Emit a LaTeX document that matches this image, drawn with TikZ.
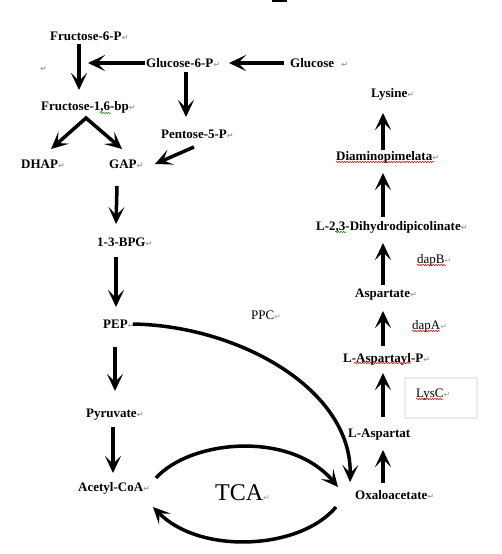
\documentclass[tikz,border=0pt]{standalone}
\usepackage{fontspec}
\setmainfont{Liberation Serif}
\newfontfamily\symfont{DejaVu Sans}
\usetikzlibrary{arrows.meta, calc, decorations.pathmorphing}
\newcommand{\retmark}{{\color{gray!75}\symfont\fontsize{8}{8}\selectfont ↵}}

\begin{document}
\begin{tikzpicture}[
    x=1pt, y=-1pt,
    >={Stealth[length=17pt, width=16pt, inset=8pt]},
    met/.style={anchor=west, inner sep=0pt, font=\bfseries\fontsize{13}{15}\selectfont, text height=8.6pt, text depth=0pt},
    enz/.style={anchor=west, inner sep=0pt, font=\fontsize{13}{15}\selectfont, text height=8.6pt, text depth=0pt},
    cycle/.style={anchor=west, inner sep=0pt, font=\fontsize{24}{28}\selectfont, text height=15.9pt, text depth=0pt},
    arrow/.style={->, line width=3.5pt, line join=miter},
    redsquig/.style={draw=red!85!black, line width=0.5pt, decorate, decoration={snake, amplitude=0.7pt, segment length=2.6pt}},
    greensquig/.style={redsquig, draw=green!55!black},
    lysbox/.style={rectangle, draw=gray!15, line width=2pt, minimum width=72pt, minimum height=40pt, anchor=north west}
]
\useasboundingbox (0,0) rectangle (502,554);
\fill (272,0) rectangle (287,2);

% Glycolysis
\node[met] (f6p) at (50,36) {Fructose-6-P\retmark};
\node[met] (blank) at (40,67) {\retmark};
\node[met] (g6p) at (146,63) {Glucose-6-P\retmark};
\node[met] (glc) at (290,63) {Glucose\hspace{7pt}\retmark};
\node[met] (f16) at (41,106) {Fructose-1,6-bp\retmark};
\node[met] (p5p) at (161,134) {Pentose-5-P\retmark};
\node[met] (dhap) at (21,164) {DHAP\retmark};
\node[met] (gap) at (109,164) {GAP\retmark};
\node[met] (bpg) at (97,242) {1-3-BPG\retmark};
\node[met] (pep) at (103,324) {PEP\retmark};
\node[met] (pyr) at (86,413) {Pyruvate\retmark};
\node[met] (acoa) at (78,487) {Acetyl-CoA\retmark};
\node[cycle] (tca) at (215,493) {TCA\retmark};
\node[enz] (ppc) at (251,315) {PPC\retmark};

% Lysine branch
\node[met] (oaa) at (355,495) {Oxaloacetate\retmark};
\node[met] (lasp) at (348,433) {L-Aspartat};
\node[lysbox] (lyscbox) at (404,377) {};
\node[enz] (lysc) at (416,393) {LysC\retmark};
\node[met] (laspp) at (343,358) {L-Aspartayl-P\retmark};
\node[enz] (dapa) at (412,325) {dapA\retmark};
\node[met] (asp) at (355,293) {Aspartate\retmark};
\node[enz] (dapb) at (417,259) {dapB\retmark};
\node[met] (dhdp) at (316,226) {L-2,3-Dihydrodipicolinate\retmark};
\node[met] (dap) at (336,156) {Diaminopimelata\retmark};
\node[met] (lys) at (371,93) {Lysine\retmark};

% spell-check marks
\draw[greensquig] ($(f16.west)+(59,7)$) -- ++(11,0);
\draw[greensquig] ($(dhdp.west)+(19,6)$) -- ++(11,0);
\draw[redsquig] ($(dap.west)+(0,6)$) -- ++(98,0);
\draw[redsquig] ($(dapb.west)+(0,6)$) -- ++(29,0);
\draw[redsquig] ($(dapa.west)+(0,6)$) -- ++(28,0);
\draw[redsquig] ($(lysc.west)+(0,6)$) -- ++(27,0);
\draw[redsquig] ($(laspp.west)+(11,5)$) -- ++(57,0);

% Arrows
\coordinate (f6pjoin) at (88,63);
\draw[arrow] ($(f6p.west)+(29,8)$) -- ($(f16.west)+(38,-16)$);
\draw[arrow] ($(g6p.west)+(-1,0)$) -- (f6pjoin);
\draw[arrow] ($(glc.west)+(-6,0)$) -- ($(g6p.west)+(83,0)$);
\draw[arrow] ($(g6p.west)+(40,9)$) -- ($(p5p.west)+(25,-17)$);
\draw[arrow, <->] ($(dhap.west)+(30,-15)$) -- ($(f16.west)+(45,12)$) -- ($(gap.west)+(13,-15)$);
\draw[arrow] ($(p5p.west)+(33,13)$) -- ($(gap.west)+(46,0)$);
\draw[arrow] ($(gap.west)+(8,22)$) -- ($(bpg.west)+(19,-18)$);
\draw[arrow] ($(bpg.west)+(19,15)$) -- ($(pep.west)+(13,-17)$);
\draw[arrow] ($(pep.west)+(12,23)$) -- ($(pyr.west)+(29,-22)$);
\draw[arrow] ($(pyr.west)+(27,14)$) -- ($(acoa.west)+(35,-14)$);

\draw[arrow] ($(pep.west)+(30,0)$) .. controls (240,326) and (352,390) .. ($(oaa.west)+(-5,-13)$);
\draw[arrow] ($(acoa.west)+(78,-9)$) .. controls (190,440) and (290,430) .. ($(oaa.west)+(-17,-8)$);
\draw[arrow] ($(oaa.west)+(-19,12)$) .. controls (300,550) and (200,555) .. ($(acoa.west)+(75,20)$);

\draw[arrow] ($(oaa.west)+(28,-12)$) -- ($(lasp.west)+(35,17)$);
\draw[arrow] ($(lasp.west)+(35,-16)$) -- ($(laspp.west)+(40,15)$);
\draw[arrow] ($(laspp.west)+(40,-12)$) -- ($(asp.west)+(28,18)$);
\draw[arrow] ($(asp.west)+(28,-8)$) -- ($(dhdp.west)+(67,17)$);
\draw[arrow] ($(dhdp.west)+(67,-9)$) -- ($(dap.west)+(47,17)$);
\draw[arrow] ($(dap.west)+(47,-6)$) -- ($(lys.west)+(12,20)$);

\end{tikzpicture}
\end{document}
